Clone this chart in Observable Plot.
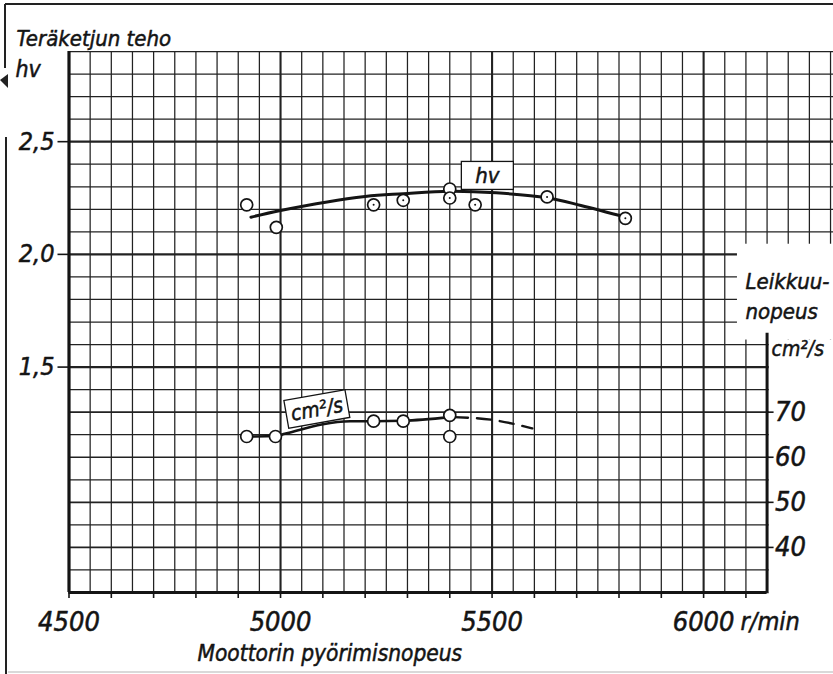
<!DOCTYPE html>
<html><head><meta charset="utf-8">
<script src="https://cdn.jsdelivr.net/npm/d3@7"></script>
<script src="https://cdn.jsdelivr.net/npm/@observablehq/plot@0.6"></script>
<style>
html,body{margin:0;padding:0;background:#fff;}
#chart{width:833px;height:674px;overflow:hidden;}
#chart svg text{font-stretch:condensed;}
</style></head><body><div id="chart"></div>
<script>
// ---------- data ----------
// measured power, hv
const hvRpm    = [4920, 4990, 5220, 5290, 5400, 5400, 5460, 5630, 5815];
const hvValues = [2.22, 2.12, 2.22, 2.24, 2.29, 2.25, 2.22, 2.255, 2.16];
const hvCentered = [false, false, true, true, false, true, true, true, true];
// fitted hv curve
const hvCurveRpm    = [4930, 5000, 5200, 5290, 5400, 5510, 5630, 5710, 5820];
const hvCurveValues = [2.165, 2.195, 2.257, 2.269, 2.280, 2.273, 2.251, 2.217, 2.163];
// measured cutting rate, cm²/s
const cmRpm    = [4920, 4988, 5220, 5290, 5400, 5400];
const cmValues = [64.6, 64.6, 68.0, 68.0, 69.3, 64.6];
// fitted cm²/s curve (solid) and its dashed extension
const cmCurveRpm    = [4920, 4990, 5010, 5165, 5220, 5290, 5400];
const cmCurveValues = [64.6, 64.7, 65.2, 68.0, 68.0, 68.1, 68.9];
const cmDashRpm    = [5410, 5500, 5595];
const cmDashValues = [68.9, 68.3, 66.4];
// axis ticks / labels
const xLabelTicks = [4500, 5000, 5500, 6000];
const xLabelText  = ["4500", "5000", "5500", "6000"];
const yLabelTicks = [2.5, 2.0, 1.5];
const yLabelText  = ["2,5", "2,0", "1,5"];
const cmTicks = [70, 60, 50, 40];
const cmTickText = ["70", "60", "50", "40"];

// secondary axis: cm²/s -> hv position (70 ↔ 1.3, 10 units = 0.2)
const hvOfCm = v => 1.3 + (v - 70) * 0.02;

// ---------- layout ----------
const W = 833, H = 674, mL = 68.5, mT = 51, mB = 82;
const xDomain = [4500, 6307], yDomain = [0.5, 2.9];
const xRight = 6150;           // right (cm²/s) axis position
const rpx = (xDomain[1] - xDomain[0]) / (W - mL);        // rpm per px
const hpx = (yDomain[1] - yDomain[0]) / (H - mB - mT);   // hv per px
const F = "'DejaVu Sans Condensed', 'DejaVu Sans', sans-serif";
const INK = "#141414";

const gridXs = d3.range(4500, 6301, 50);
const gridYs = d3.range(5, 30).map(d => d / 10);
const majorX = new Set([5000, 5500, 6000]);
const majorY = new Set([2.5, 2.0, 1.5]);
const medY = new Set([1.3, 1.1, 0.9, 0.7]);

const hvPts = hvRpm.map((x, i) => ({x, y: hvValues[i], c: hvCentered[i]}));
const hvCurve = hvCurveRpm.map((x, i) => ({x, y: hvCurveValues[i]}));
const cmPts = cmRpm.map((x, i) => ({x, y: hvOfCm(cmValues[i])}));
const cmCurve = cmCurveRpm.map((x, i) => ({x, y: hvOfCm(cmCurveValues[i])}));
const cmDash = cmDashRpm.map((x, i) => ({x, y: hvOfCm(cmDashValues[i])}));

// label boxes (annotation placement)
const boxes = [
  {text: "hv", x: 5490, y: 2.348, w: 52, h: 28, angle: 0, size: 22},
  {text: "cm²/s", x: 5087, y: 1.312, w: 62, h: 28, angle: -10, size: 21}
];
// paper masks (white paste-over areas at the right)
const masks = [
  {x1: 6080, x2: 6320, y1: 1.62, y2: 2.045},
  {x1: 6155, x2: 6320, y1: 0.45, y2: 1.62}
];

const txt = {fontFamily: F, fontStyle: "italic", fill: INK, stroke: INK, strokeWidth: 0.5};

const chart = Plot.plot({
  width: W, height: H,
  marginLeft: mL, marginRight: 0, marginTop: mT, marginBottom: mB,
  x: {domain: xDomain, axis: null},
  y: {domain: yDomain, axis: null},
  style: {background: "#fff", overflow: "visible"},
  marks: [
    // scan frame
    () => {
      const g = d3.create("svg:g");
      g.append("path").attr("d", "M5,4H833M5,4V68M6,137V674")
        .attr("stroke", "#222").attr("stroke-width", 2).attr("fill", "none");
      g.append("path").attr("d", "M0,80l8,-6l0,14z").attr("fill", "#222");
      g.append("path").attr("d", "M8,672H833").attr("stroke", "#ccc").attr("stroke-width", 1.5);
      return g.node();
    },
    // graph paper grid
    Plot.ruleX(gridXs, {y1: yDomain[0], y2: yDomain[1], stroke: "#222",
      strokeWidth: d => majorX.has(d) ? 2.1 : 1.25}),
    Plot.ruleY(gridYs, {x1: xDomain[0], x2: xDomain[1], stroke: "#222",
      strokeWidth: d => majorY.has(d) ? 2.1 : medY.has(d) ? 1.7 : 1.25}),
    // white paste-over areas
    Plot.rect(masks, {x1: "x1", x2: "x2", y1: "y1", y2: "y2", fill: "#fff"}),
    // axes
    Plot.ruleX([4500], {y1: yDomain[0], y2: yDomain[1], stroke: INK, strokeWidth: 3.2}),
    Plot.ruleY([0.5], {x1: 4500, x2: xRight, stroke: INK, strokeWidth: 3}),
    Plot.ruleX([xRight], {y1: 0.5, y2: 1.65, stroke: INK, strokeWidth: 3}),
    // ticks
    Plot.ruleY(yLabelTicks, {x1: 4500 - 11 * rpx, x2: 4500, stroke: INK, strokeWidth: 1.6}),
    Plot.ruleX(d3.range(4500, 6101, 100), {y1: 0.5 - 6 * hpx, y2: 0.5, stroke: INK, strokeWidth: 1.6}),
    Plot.ruleY(cmTicks.map(hvOfCm), {x1: xRight, x2: xRight + 7 * rpx, stroke: INK, strokeWidth: 1.6}),
    // curves
    Plot.line(hvCurve, {x: "x", y: "y", curve: "catmull-rom", stroke: INK, strokeWidth: 3}),
    Plot.line(cmCurve, {x: "x", y: "y", curve: "monotone-x", stroke: INK, strokeWidth: 2.6}),
    Plot.line(cmDash, {x: "x", y: "y", curve: "monotone-x", stroke: INK, strokeWidth: 2.4, strokeDasharray: "14,9"}),
    // label boxes
    (index, {x, y}) => {
      const g = d3.create("svg:g");
      for (const b of boxes) {
        const cx = x(b.x), cy = y(b.y);
        const gg = g.append("g").attr("transform", `translate(${cx},${cy}) rotate(${b.angle})`);
        gg.append("rect").attr("x", -b.w / 2).attr("y", -b.h / 2).attr("width", b.w).attr("height", b.h)
          .attr("fill", "#fff").attr("stroke", INK).attr("stroke-width", 1.3);
        gg.append("text").attr("text-anchor", "middle").attr("dy", "0.35em")
          .attr("font-family", F).attr("font-style", "italic").attr("font-size", b.size)
          .attr("fill", INK).attr("stroke", INK).attr("stroke-width", 0.5).text(b.text);
      }
      return g.node();
    },
    // data points
    Plot.dot(hvPts, {x: "x", y: "y", r: 6, fill: "#fff", stroke: INK, strokeWidth: 1.7}),
    Plot.dot(hvPts.filter(d => d.c), {x: "x", y: "y", r: 1, fill: INK}),
    Plot.dot(cmPts, {x: "x", y: "y", r: 6, fill: "#fff", stroke: INK, strokeWidth: 1.7}),
    // tick labels
    Plot.text(xLabelTicks, {x: d => d, text: (d, i) => xLabelText[i], frameAnchor: "bottom",
      dy: 38, lineAnchor: "bottom", fontSize: 27, ...txt}),
    Plot.text([6000], {x: d => d, text: () => "r/min", frameAnchor: "bottom", dx: 37, dy: 37,
      textAnchor: "start", lineAnchor: "bottom", fontSize: 25, ...txt}),
    Plot.text(yLabelTicks, {y: d => d, text: (d, i) => yLabelText[i], frameAnchor: "left",
      dx: -14.5, textAnchor: "end", lineAnchor: "middle", fontSize: 25, ...txt}),
    Plot.text(cmTicks, {x: () => xRight, y: d => hvOfCm(d), text: (d, i) => cmTickText[i],
      dx: 8, textAnchor: "start", lineAnchor: "middle", fontSize: 27, ...txt}),
    // titles
    Plot.text(["Teräketjun teho"], {frameAnchor: "top-left", dx: -52.5, dy: -6,
      textAnchor: "start", lineAnchor: "bottom", fontSize: 22, ...txt}),
    Plot.text(["hv"], {frameAnchor: "top-left", dx: -53.5, dy: 25,
      textAnchor: "start", lineAnchor: "bottom", fontSize: 23, ...txt}),
    Plot.text(["Moottorin pyörimisnopeus"], {frameAnchor: "bottom-left", dx: 128.5, dy: 68,
      textAnchor: "start", lineAnchor: "bottom", fontSize: 22.5, ...txt}),
    Plot.text(["Leikkuu-"], {frameAnchor: "top-left", dx: 745 - mL, dy: 288 - mT,
      textAnchor: "start", lineAnchor: "bottom", fontSize: 22, ...txt}),
    Plot.text(["nopeus"], {frameAnchor: "top-left", dx: 745 - mL, dy: 318 - mT,
      textAnchor: "start", lineAnchor: "bottom", fontSize: 22, ...txt}),
    Plot.text(["cm²/s"], {frameAnchor: "top-left", dx: 771 - mL, dy: 355 - mT,
      textAnchor: "start", lineAnchor: "bottom", fontSize: 21, ...txt})
  ]
});
document.getElementById("chart").appendChild(chart);
</script></body></html>
